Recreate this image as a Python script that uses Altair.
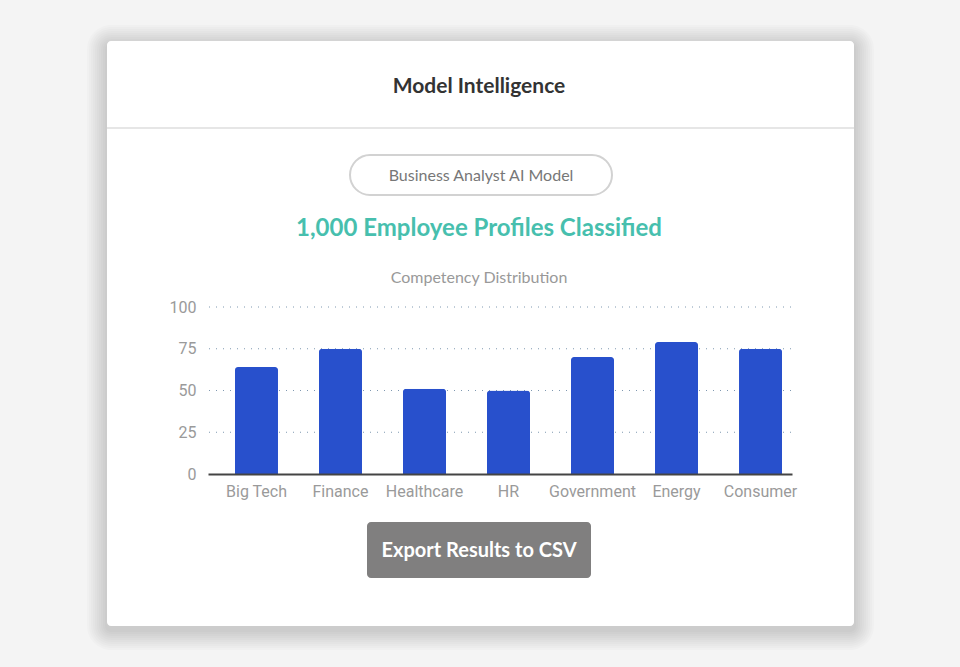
import altair as alt
import pandas as pd

# ---- data ----
categories = ["Big Tech", "Finance", "Healthcare", "HR", "Government", "Energy", "Consumer"]
scores = [64, 75, 51, 50, 70, 79, 75]
y_ticks = [0, 25, 50, 75, 100]

card_title = "Model Intelligence"
model_label = "Business Analyst AI Model"
headline = "1,000 Employee Profiles Classified"
chart_caption = "Competency Distribution"
button_label = "Export Results to CSV"

df = pd.DataFrame({"category": categories, "score": scores})
grid_df = pd.DataFrame({"tick": y_ticks[1:]})
one = pd.DataFrame({"k": [0]})

# ---- layout (page pixels) ----
W, H = 584, 167
L, T = 208, 307


def px(v):
    return v - L


def py(v):
    return v - T


CARD = (107, 41, 854, 626)

layers = []

# soft shadow around card
for i in range(1, 11):
    e = i * 2
    layers.append(
        alt.Chart(one).mark_rect(color="#000000", opacity=0.016, cornerRadius=4 + e).encode(
            x=alt.value(px(CARD[0]) - e), x2=alt.value(px(CARD[2]) + e),
            y=alt.value(py(CARD[1]) - e + 4), y2=alt.value(py(CARD[3]) + e + 4),
        )
    )

# card
layers.append(
    alt.Chart(one).mark_rect(color="#ffffff", cornerRadius=4).encode(
        x=alt.value(px(CARD[0])), x2=alt.value(px(CARD[2])),
        y=alt.value(py(CARD[1])), y2=alt.value(py(CARD[3])),
    )
)

# divider
layers.append(
    alt.Chart(one).mark_rule(color="#e6e6e6", strokeWidth=2).encode(
        x=alt.value(px(CARD[0])), x2=alt.value(px(CARD[2])),
        y=alt.value(py(128)),
    )
)

# title
layers.append(
    alt.Chart(one).mark_text(font="Lato", fontSize=21, fontWeight="bold", color="#333333",
                             align="center", baseline="middle").encode(
        x=alt.value(px(479)), y=alt.value(py(86.5)), text=alt.value(card_title)
    )
)

# pill
layers.append(
    alt.Chart(one).mark_rect(fill="#ffffff", stroke="#d2d2d2", strokeWidth=2, cornerRadius=20).encode(
        x=alt.value(px(350)), x2=alt.value(px(612)),
        y=alt.value(py(155)), y2=alt.value(py(195)),
    )
)
layers.append(
    alt.Chart(one).mark_text(font="Lato", fontSize=16, color="#777777",
                             align="center", baseline="middle").encode(
        x=alt.value(px(481)), y=alt.value(py(176)), text=alt.value(model_label)
    )
)

# headline
layers.append(
    alt.Chart(one).mark_text(font="Lato", fontSize=24, fontWeight="bold", color="#47bfae",
                             align="center", baseline="middle").encode(
        x=alt.value(px(479)), y=alt.value(py(228.5)), text=alt.value(headline)
    )
)

# caption
layers.append(
    alt.Chart(one).mark_text(font="Lato", fontSize=16, color="#999999",
                             align="center", baseline="middle").encode(
        x=alt.value(px(479)), y=alt.value(py(278)), text=alt.value(chart_caption)
    )
)

# button
layers.append(
    alt.Chart(one).mark_rect(color="#807f7f", cornerRadius=4).encode(
        x=alt.value(px(367)), x2=alt.value(px(591)),
        y=alt.value(py(522)), y2=alt.value(py(578)),
    )
)
layers.append(
    alt.Chart(one).mark_text(font="Lato", fontSize=20, fontWeight="bold", color="#ffffff",
                             align="center", baseline="middle").encode(
        x=alt.value(px(479)), y=alt.value(py(551)), text=alt.value(button_label)
    )
)

yscale = alt.Scale(domain=[0, 100], nice=False)
yaxis = alt.Axis(title=None, values=y_ticks, grid=False, domain=False, ticks=False,
                 labelPadding=12, labelFont="Roboto", labelFontSize=16,
                 labelColor="#9a9a9a", zindex=1)

# dotted gridlines
layers.append(
    alt.Chart(grid_df).mark_rule(strokeDash=[1, 6], color="#7f98b0", strokeWidth=1).encode(
        y=alt.Y("tick:Q", scale=yscale, axis=yaxis),
        x=alt.value(1), x2=alt.value(W),
    )
)

# bars
layers.append(
    alt.Chart(df).mark_bar(color="#2850cc", cornerRadiusTopLeft=3, cornerRadiusTopRight=3).encode(
        x=alt.X("category:N", sort=categories,
                scale=alt.Scale(paddingInner=0.488, paddingOuter=0.22, align=0.73),
                axis=alt.Axis(title=None, labelAngle=0, domain=True, domainColor="#444444",
                              domainWidth=2, ticks=False, grid=False, labelPadding=9,
                              labelFont="Roboto", labelFontSize=16, labelColor="#9a9a9a",
                              zindex=1)),
        y=alt.Y("score:Q", scale=yscale, axis=yaxis),
    )
)

chart = alt.layer(*layers).properties(
    width=W, height=H,
    autosize=alt.AutoSizeParams(type="none"),
    padding={"left": L, "top": T, "right": 960 - L - W, "bottom": 667 - T - H},
    background="#f4f4f4",
).configure_view(stroke=None)

chart.save("out.html", embed_options={"renderer": "svg", "actions": False})
